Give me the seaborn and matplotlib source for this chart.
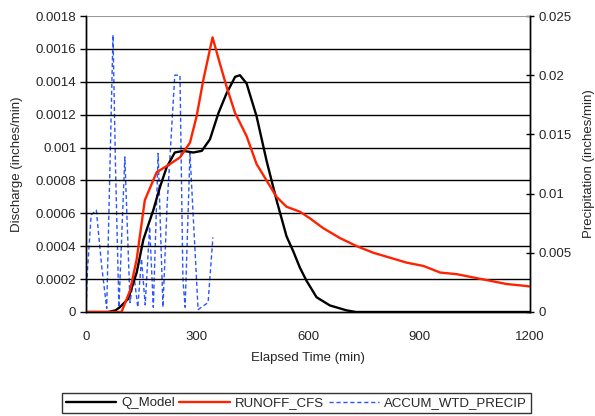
import matplotlib
matplotlib.use("Agg")
import matplotlib.pyplot as plt
import seaborn as sns
from matplotlib.lines import Line2D

# Q_Model (inches/min) vs elapsed time (min)
q_time = [0, 60, 80, 92, 114, 137, 155, 182, 200, 218, 240, 263, 290, 313, 335, 358,
          380, 403, 416, 434, 461, 488, 515, 542, 560, 578, 596, 623, 659, 704, 730, 1200]
q_model = [0, 0, 0.00001, 0.00003, 0.00008, 0.00024, 0.00044, 0.00062, 0.00076, 0.00088,
           0.00097, 0.00098, 0.00097, 0.00098, 0.00105, 0.00121, 0.00133, 0.00143, 0.00144,
           0.00139, 0.00119, 0.00092, 0.00068, 0.00046, 0.00037, 0.00027, 0.00019, 0.00009,
           0.00004, 0.00001, 0, 0]

# RUNOFF_CFS
r_time = [0, 96, 119, 137, 159, 191, 227, 254, 281, 299, 317, 342, 362, 380, 403, 434,
          461, 488, 515, 542, 578, 605, 641, 686, 732, 777, 822, 867, 912, 957, 1002,
          1047, 1092, 1137, 1182, 1200]
runoff = [0, 0, 0.00013, 0.00032, 0.00068, 0.00085, 0.0009, 0.00094, 0.00103, 0.00119,
          0.00141, 0.00167, 0.00151, 0.00137, 0.00121, 0.00107, 0.0009, 0.0008, 0.0007,
          0.00064, 0.00061, 0.00057, 0.00051, 0.00045, 0.0004, 0.00036, 0.00033, 0.0003,
          0.00028, 0.00024, 0.00023, 0.00021, 0.00019, 0.00017, 0.00016, 0.000155]

# ACCUM_WTD_PRECIP (right axis)
p_time = [0, 4, 14, 28, 42, 56, 73, 80, 89, 105, 119, 130, 140, 150, 160, 172, 182,
          195, 208, 219, 240, 254, 262, 268, 281, 303, 330, 343]
precip = [0, 0.0035, 0.0082, 0.0086, 0.004, 0.0003, 0.0234, 0.012, 0.0004, 0.0131,
          0.0008, 0.003, 0.0004, 0.0045, 0.0006, 0.0072, 0.0004, 0.0134, 0.0004, 0.0089,
          0.02, 0.02, 0.0027, 0.0004, 0.0134, 0.0002, 0.0008, 0.0063]

x_ticks = [0, 300, 600, 900, 1200]
left_ticks = [0, 0.0002, 0.0004, 0.0006, 0.0008, 0.001, 0.0012, 0.0014, 0.0016, 0.0018]
left_labels = ["0", "0.0002", "0.0004", "0.0006", "0.0008", "0.001", "0.0012",
               "0.0014", "0.0016", "0.0018"]
right_ticks = [0, 0.005, 0.01, 0.015, 0.02, 0.025]
right_labels = ["0", "0.005", "0.01", "0.015", "0.02", "0.025"]

sns.set_style("white")
plt.rcParams["font.family"] = ["Liberation Sans", "DejaVu Sans"]
plt.rcParams["font.size"] = 9.5

fig = plt.figure(figsize=(5.95, 4.16), dpi=100)
ax = fig.add_axes([0.1445, 0.25, 0.7463, 0.7115])
ax2 = ax.twinx()

blue = "#2a55ff"
# precipitation behind the discharge lines
sns.lineplot(x=p_time, y=precip, ax=ax2, color=blue, lw=1.0,
             linestyle=(0, (3, 2)), errorbar=None)
sns.lineplot(x=q_time, y=q_model, ax=ax, color="black", lw=1.7, errorbar=None)
sns.lineplot(x=r_time, y=runoff, ax=ax, color="#ff2200", lw=1.7, errorbar=None)
ax.set_zorder(ax2.get_zorder() + 1)
ax.patch.set_visible(False)

ax.set_xlim(0, 1200)
ax.set_ylim(0, 0.0018)
ax2.set_ylim(0, 0.025)
ax.set_xticks(x_ticks)
ax.set_xticklabels([str(t) for t in x_ticks])
ax.set_yticks(left_ticks)
ax.set_yticklabels(left_labels)
ax2.set_yticks(right_ticks)
ax2.set_yticklabels(right_labels)

for y in left_ticks[1:-1]:
    ax.axhline(y, color="black", lw=1.0, zorder=0)
ax.axhline(0.0018, color="#999999", lw=0.8)

for a in (ax, ax2):
    for s in ("left", "right", "bottom"):
        a.spines[s].set_color("black")
        a.spines[s].set_linewidth(1.0)
    a.spines["top"].set_visible(False)
ax.tick_params(axis="y", direction="out", length=4, width=1, color="black", pad=3)
ax.tick_params(axis="x", direction="inout", length=6, width=1, color="black", pad=11)
ax2.tick_params(axis="y", direction="inout", length=6, width=1, color="black", pad=3)

ax.set_xlabel("Elapsed Time (min)", labelpad=6)
ax.set_ylabel("Discharge (inches/min)", labelpad=9)
ax2.set_ylabel("Precipitation (inches/min)", labelpad=8)

handles = [
    Line2D([], [], color="black", lw=1.7),
    Line2D([], [], color="#ff2200", lw=1.7),
    Line2D([], [], color=blue, lw=1.0, linestyle=(0, (3, 2))),
]
leg = fig.legend(handles, ["Q_Model", "RUNOFF_CFS", "ACCUM_WTD_PRECIP"],
                 loc="center", bbox_to_anchor=(0.498, 0.031), ncol=3,
                 frameon=True, fancybox=False, handlelength=3.8, handletextpad=0.4,
                 columnspacing=0.35, borderpad=0.3, fontsize=9.5)
leg.get_frame().set_edgecolor("black")
leg.get_frame().set_linewidth(1.0)

fig.savefig("out.png", dpi=100)
